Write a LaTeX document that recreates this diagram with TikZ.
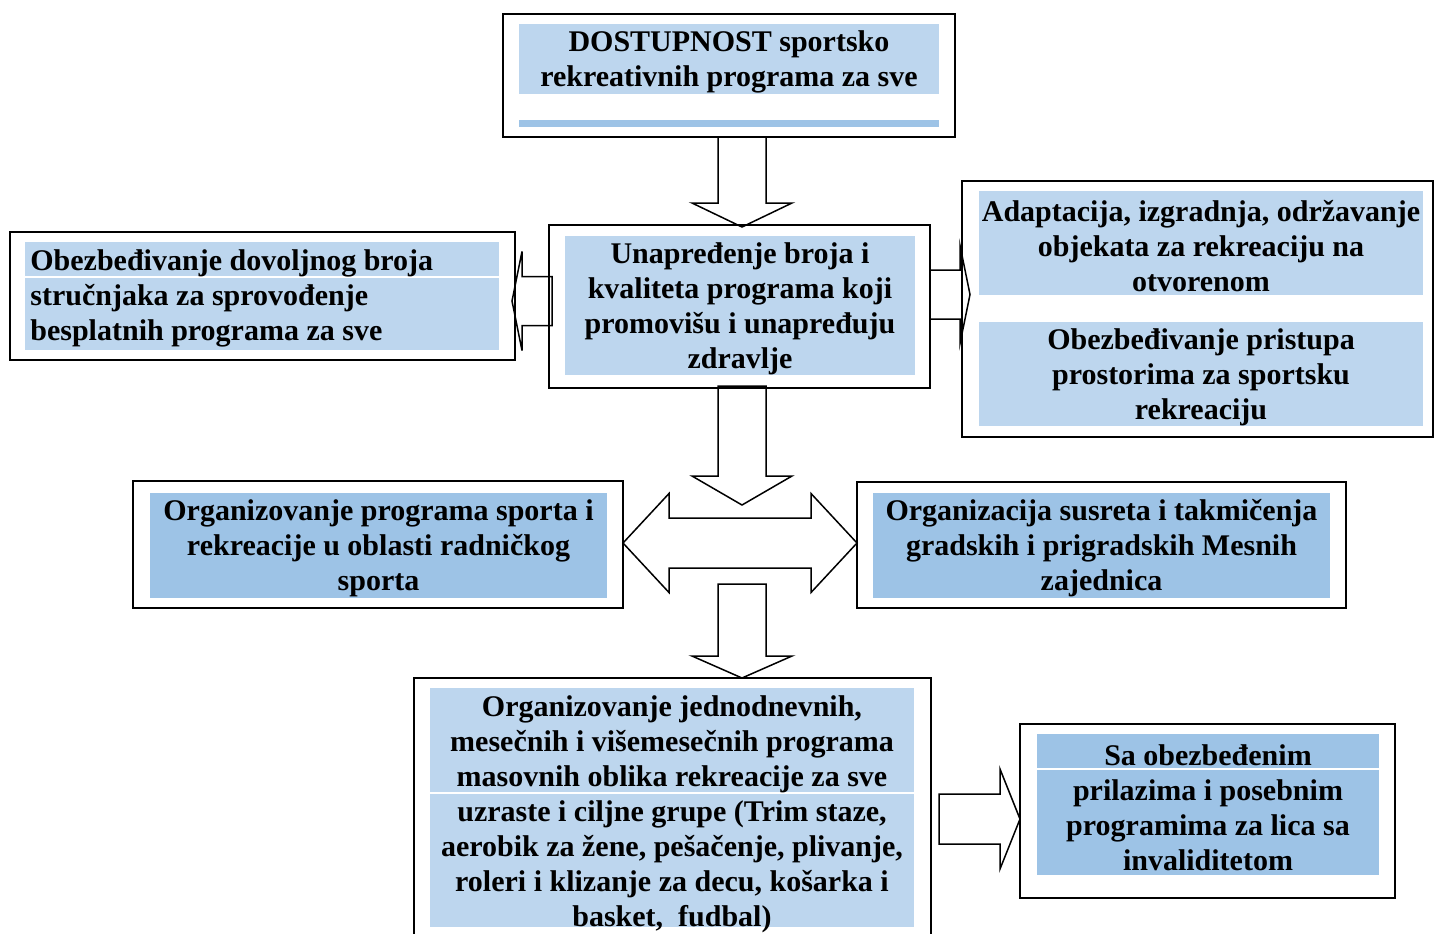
\documentclass[tikz,border=0pt]{standalone}
\usepackage{fontspec}
\setmainfont{Liberation Serif}
\usetikzlibrary{calc}

\definecolor{bandlight}{HTML}{BDD6EE}
\definecolor{banddark}{HTML}{9DC3E6}

\newcommand{\boxfont}{\fontsize{15}{17.5}\selectfont\bfseries}

\tikzset{
	outerbox/.style={shape=rectangle,draw=black,line width=1pt,inner sep=0pt},
	boxtext/.style={inner sep=0pt,align=center,font=\boxfont},
	blockarrow/.style={draw=black,fill=white,line width=0.75pt,line join=miter},
	rowline/.style={draw=white,line width=0.8pt}
}

\begin{document}
\begin{tikzpicture}[x=0.5pt,y=-0.5pt]
	\clip (0,0) rectangle (1434,933);
	\fill[white] (0,0) rectangle (1434,933);

	% block arrows (drawn first, boxes go over them)
	\coordinate (s1) at (742,137);
	\coordinate (t1) at (742,227);
	\draw[blockarrow] ($(s1)+(-24,0)$) -- ($(t1)+(-24,-24)$) -- ($(t1)+(-50,-24)$) -- (t1)
		-- ($(t1)+(50,-24)$) -- ($(t1)+(24,-24)$) -- ($(s1)+(24,0)$) -- cycle;

	\coordinate (s2) at (742,386);
	\coordinate (t2) at (742,505);
	\draw[blockarrow] ($(s2)+(-24,0)$) -- ($(t2)+(-24,-29)$) -- ($(t2)+(-50,-29)$) -- (t2)
		-- ($(t2)+(50,-29)$) -- ($(t2)+(24,-29)$) -- ($(s2)+(24,0)$) -- cycle;

	\coordinate (l3) at (623,543);
	\coordinate (r3) at (857,543);
	\draw[blockarrow] (l3) -- ($(l3)+(46,-49.5)$) -- ($(l3)+(46,-25)$) -- ($(r3)+(-46,-25)$)
		-- ($(r3)+(-46,-49.5)$) -- (r3) -- ($(r3)+(-46,49.5)$) -- ($(r3)+(-46,25)$)
		-- ($(l3)+(46,25)$) -- ($(l3)+(46,49.5)$) -- cycle;

	\coordinate (s4) at (742,584);
	\coordinate (t4) at (742,678);
	\draw[blockarrow] ($(s4)+(-24,0)$) -- ($(t4)+(-24,-22)$) -- ($(t4)+(-50,-22)$) -- (t4)
		-- ($(t4)+(50,-22)$) -- ($(t4)+(24,-22)$) -- ($(s4)+(24,0)$) -- cycle;

	\coordinate (s5) at (552,301);
	\coordinate (t5) at (512,301);
	\draw[blockarrow] ($(s5)+(0,-24.5)$) -- ($(t5)+(10,-24.5)$) -- ($(t5)+(10,-49.5)$) -- (t5)
		-- ($(t5)+(10,49.5)$) -- ($(t5)+(10,24.5)$) -- ($(s5)+(0,24.5)$) -- cycle;

	\coordinate (s6) at (930,294.5);
	\coordinate (t6) at (970,294.5);
	\draw[blockarrow] ($(s6)+(0,-24.5)$) -- ($(t6)+(-10,-24.5)$) -- ($(t6)+(-10,-49)$) -- (t6)
		-- ($(t6)+(-10,49)$) -- ($(t6)+(-10,24.5)$) -- ($(s6)+(0,24.5)$) -- cycle;

	\coordinate (s7) at (939,819);
	\coordinate (t7) at (1020,819);
	\draw[blockarrow] ($(s7)+(0,-25)$) -- ($(t7)+(-20,-25)$) -- ($(t7)+(-20,-50)$) -- (t7)
		-- ($(t7)+(-20,50)$) -- ($(t7)+(-20,25)$) -- ($(s7)+(0,25)$) -- cycle;

	% outer frames
	\node[outerbox,minimum width=226pt,minimum height=61.5pt] (dostupnost) at (729,75.5) {};
	\node[outerbox,minimum width=190.5pt,minimum height=81.5pt] (unapredjenje) at (739.5,306.5) {};
	\node[outerbox,minimum width=252.5pt,minimum height=64pt] (strucnjaci) at (262.5,296) {};
	\node[outerbox,minimum width=235.5pt,minimum height=128pt] (objekti) at (1197.5,309) {};
	\node[outerbox,minimum width=245pt,minimum height=63.5pt] (radnicki) at (378,544.5) {};
	\node[outerbox,minimum width=244.5pt,minimum height=63pt] (mesne) at (1101.5,545) {};
	\node[outerbox,minimum width=258.5pt,minimum height=141pt] (masovni) at (672.5,819) {};
	\node[outerbox,minimum width=187.5pt,minimum height=87pt] (invaliditet) at (1207.5,811) {};

	% blue bands
	\fill[bandlight] (519,24) rectangle (939,94);
	\fill[banddark] (519,120) rectangle (939,127);
	\fill[bandlight] (565,236) rectangle (915,375);
	\fill[bandlight] (25,242) rectangle (499,350);
	\draw[rowline] (25,277) -- (499,277);
	\fill[bandlight] (979,191) rectangle (1423,295);
	\fill[bandlight] (979,322) rectangle (1423,426);
	\fill[banddark] (150,493) rectangle (607,598);
	\fill[banddark] (873,493) rectangle (1330,598);
	\fill[bandlight] (430,688) rectangle (914,927);
	\draw[rowline] (430,793) -- (914,793);
	\fill[banddark] (1037,734) rectangle (1379,875);
	\draw[rowline] (1037,769) -- (1379,769);

	% texts
	\node[boxtext] (dostupnostT) at (729,62)
		{DOSTUPNOST sportsko\\rekreativnih programa za sve};
	\node[boxtext] (unapredjenjeT) at (740,308.5)
		{Unapređenje broja i\\kvaliteta programa koji\\promovišu i unapređuju\\zdravlje};
	\node[boxtext,align=left,anchor=west] (strucnjaciT) at (30,298)
		{Obezbeđivanje dovoljnog broja\\stručnjaka za sprovođenje\\besplatnih programa za sve};
	\node[boxtext] (objektiA) at (1201,246)
		{Adaptacija, izgradnja, održavanje\\objekata za rekreaciju na\\otvorenom};
	\node[boxtext] (objektiB) at (1201,377)
		{Obezbeđivanje pristupa\\prostorima za sportsku\\rekreaciju};
	\node[boxtext] (radnickiT) at (378.5,548.5)
		{Organizovanje programa sporta i\\rekreacije u oblasti radničkog\\sporta};
	\node[boxtext] (mesneT) at (1101.5,548.5)
		{Organizacija susreta i takmičenja\\gradskih i prigradskih Mesnih\\zajednica};
	\node[boxtext] (masovniT) at (672,814)
		{Organizovanje jednodnevnih,\\mesečnih i višemesečnih programa\\masovnih oblika rekreacije za sve\\uzraste i ciljne grupe (Trim staze,\\aerobik za žene, pešačenje, plivanje,\\roleri i klizanje za decu, košarka i\\basket,\ \ fudbal)};
	\node[boxtext] (invaliditetT) at (1208,807.5)
		{Sa obezbeđenim\\prilazima i posebnim\\programima za lica sa\\invaliditetom};
\end{tikzpicture}
\end{document}
